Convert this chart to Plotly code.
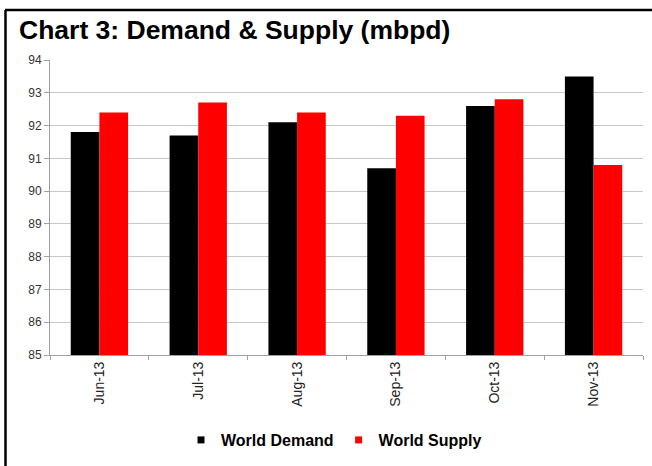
import plotly.graph_objects as go

months = ["Jun-13", "Jul-13", "Aug-13", "Sep-13", "Oct-13", "Nov-13"]
world_demand = [91.8, 91.7, 92.1, 90.7, 92.6, 93.5]
world_supply = [92.4, 92.7, 92.4, 92.3, 92.8, 90.8]
y_ticks = [85, 86, 87, 88, 89, 90, 91, 92, 93, 94]
series_names = ["World Demand", "World Supply"]
series_colors = ["#000000", "#ff0000"]

W, H = 652, 466
L, R, T, B = 50, 9, 60, 111
pw, ph = W - L - R, H - T - B

def px_x(x):
    return (x - L) / pw

def px_y(y):
    return (H - B - y) / ph

fig = go.Figure()
for name, vals, col in zip(series_names, [world_demand, world_supply], series_colors):
    fig.add_trace(go.Bar(name=name, x=months, y=vals, showlegend=False,
                         marker=dict(color=col, line=dict(width=0))))
# legend entries with small square markers
for name, col in zip(series_names, series_colors):
    fig.add_trace(go.Scatter(name=name, x=[None], y=[None], mode="markers",
                             marker=dict(symbol="square", size=7, color=col),
                             showlegend=True))

fig.update_layout(
    width=W, height=H,
    margin=dict(l=L, r=R, t=T, b=B),
    paper_bgcolor="white", plot_bgcolor="white",
    barmode="group", bargap=0.42, bargroupgap=0,
    title=dict(text="<b>Chart 3: Demand &amp; Supply (mbpd)</b>",
               x=19 / W, xanchor="left", xref="container",
               y=1 - 30 / H, yanchor="middle", yref="container",
               font=dict(family="Liberation Sans, Arial, sans-serif", size=26.5, color="#000000")),
    showlegend=True,
    legend=dict(orientation="h", x=px_x(334), xanchor="center",
                y=px_y(440), yanchor="middle",
                font=dict(family="Liberation Sans, Arial, sans-serif", size=16, color="#000000",
                          weight="bold"),
                itemwidth=30, traceorder="normal", tracegroupgap=0),
    font=dict(family="Liberation Sans, Arial, sans-serif"),
)

fig.update_yaxes(range=[85, 94], tickvals=y_ticks, showgrid=True, gridcolor="#c8c8c8", gridwidth=1,
                 showline=True, linecolor="#a0a0a0", linewidth=1,
                 ticks="outside", ticklen=5, tickcolor="#a0a0a0",
                 tickfont=dict(size=12, color="#333333",
                               family="Liberation Sans Narrow, Arial Narrow, Liberation Sans, sans-serif"),
                 zeroline=False)
fig.update_xaxes(showline=True, linecolor="#a0a0a0", linewidth=1,
                 ticks="outside", ticklen=4, tickcolor="#a0a0a0", tickson="boundaries",
                 tickangle=-90,
                 tickfont=dict(size=14, color="#222222",
                               family="Liberation Sans, Arial, sans-serif"))

# border lines of the chart box (top and left)
fig.add_shape(type="line", xref="paper", yref="paper",
              x0=px_x(5), x1=px_x(W + 2), y0=px_y(10), y1=px_y(10),
              line=dict(color="black", width=2.5))
fig.add_shape(type="line", xref="paper", yref="paper",
              x0=px_x(5.5), x1=px_x(5.5), y0=px_y(10), y1=px_y(H + 2),
              line=dict(color="black", width=2.5))

fig.write_html("out.html")
